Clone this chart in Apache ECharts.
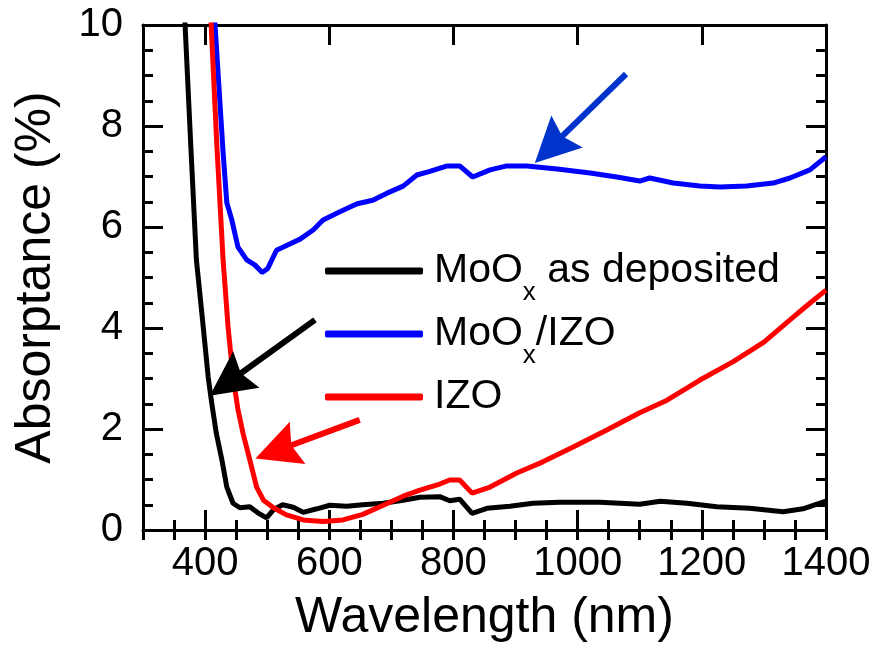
<!DOCTYPE html>
<html>
<head>
<meta charset="utf-8">
<title>Absorptance</title>
<script src="https://cdn.jsdelivr.net/npm/echarts@6.0.0/dist/echarts.min.js"></script>
<style>
  html, body { margin: 0; padding: 0; background: #fff; }
  #absorptance-chart { width: 875px; height: 650px; }
</style>
</head>
<body>
<div id="absorptance-chart"></div>
<script>
// MoOx as deposited
const blackWavelength = [367, 377, 386, 397, 405, 410, 418, 427, 435, 445, 456, 472, 485, 499, 510, 525, 542, 558, 580, 601, 628, 654, 687, 719, 746, 778, 794, 810, 830, 854, 891, 928, 971, 1036, 1100, 1133, 1176, 1224, 1277, 1331, 1363, 1395, 1400]
const blackAbsorptance = [10.2, 7.6, 5.35, 4.02, 3.03, 2.57, 1.92, 1.39, 0.85, 0.53, 0.44, 0.46, 0.34, 0.24, 0.4, 0.5, 0.45, 0.35, 0.42, 0.49, 0.47, 0.5, 0.53, 0.59, 0.65, 0.66, 0.58, 0.61, 0.33, 0.43, 0.47, 0.53, 0.55, 0.55, 0.51, 0.57, 0.53, 0.46, 0.43, 0.36, 0.42, 0.55, 0.57]

// MoOx/IZO
const blueWavelength = [415, 429, 435, 443, 453, 467, 480, 492, 501, 515, 532, 553, 574, 590, 617, 645, 670, 693, 719, 741, 762, 790, 810, 831, 859, 886, 918, 967, 1020, 1063, 1100, 1116, 1154, 1197, 1229, 1272, 1315, 1342, 1374, 1400]
const blueAbsorptance = [10.2, 7.47, 6.48, 6.14, 5.6, 5.35, 5.25, 5.1, 5.18, 5.54, 5.64, 5.76, 5.94, 6.14, 6.3, 6.46, 6.53, 6.67, 6.81, 7.03, 7.1, 7.21, 7.21, 6.99, 7.13, 7.21, 7.21, 7.15, 7.07, 6.99, 6.91, 6.97, 6.87, 6.81, 6.79, 6.81, 6.87, 6.97, 7.13, 7.39]

// IZO
const redWavelength = [409, 419, 429, 437, 445, 453, 461, 472, 483, 494, 510, 531, 558, 590, 622, 654, 687, 719, 746, 778, 794, 810, 830, 859, 902, 944, 992, 1047, 1100, 1144, 1197, 1250, 1300, 1342, 1370, 1400]
const redAbsorptance = [10.2, 7.6, 5.35, 4.02, 3.03, 2.38, 1.92, 1.39, 0.85, 0.59, 0.44, 0.3, 0.2, 0.17, 0.2, 0.31, 0.49, 0.67, 0.79, 0.91, 0.99, 0.99, 0.73, 0.85, 1.13, 1.35, 1.64, 1.98, 2.32, 2.57, 2.97, 3.33, 3.72, 4.16, 4.45, 4.75]

const xTickLabels = [400, 600, 800, 1000, 1200, 1400]
const yTickLabels = [0, 2, 4, 6, 8, 10]

// 箭头：[起点, 箭头中心]（数据坐标）
const blackArrow = [[577, 4.16], [437, 2.92]]
const blueArrow = [[1078, 9.03], [957, 7.58]]
const redArrow = [[649, 2.18], [515, 1.57]]

const FONT = "'Liberation Sans', Arial, sans-serif"
const ARROW_HEAD = 'path://M5,0 L10,20 L5,17 L0,20 Z'

const pairs = (xs, ys) => xs.map((x, i) => [x, ys[i]])

const legendText = {
  'MoOx as deposited': '{f|MoO}{s|x}{n| as deposited}',
  'MoOx/IZO': '{f|MoO}{s|x}{n|/IZO}',
  'IZO': '{f|IZO}{s| }'
}

function arrowMark(arrow, color) { // 标注箭头
  return {
    silent: true,
    animation: false,
    symbol: ['none', ARROW_HEAD],
    symbolSize: 45,
    label: { show: false },
    lineStyle: { type: 'solid', width: 6, color: color },
    itemStyle: { color: color },
    emphasis: { disabled: true },
    data: [[{ coord: arrow[0] }, { coord: arrow[1] }]]
  }
}

function lineSeries(name, xs, ys, color, arrow, arrowColor) {
  return {
    name: name,
    type: 'line',
    xAxisIndex: 0,
    yAxisIndex: 0,
    symbol: 'none',
    showSymbol: false,
    clip: true,
    animation: false,
    lineStyle: { color: color, width: 5 },
    itemStyle: { color: color },
    data: pairs(xs, ys),
    markLine: arrowMark(arrow, arrowColor)
  }
}

const axisLine = { show: true, onZero: false, lineStyle: { color: '#000', width: 3 } }
const noLine = { show: false }

function xAxisOf(position, major, labels) {
  const axis = {
    type: 'value',
    position: position,
    min: 300,
    max: 1400,
    axisLine: major ? axisLine : noLine,
    axisTick: { show: true, inside: true, length: major ? 20 : 10, lineStyle: { color: '#000', width: 3 } },
    axisLabel: { show: false },
    splitLine: { show: false }
  }
  if (!major) axis.interval = 50 // 300 是 50 的倍数
  if (labels) {
    axis.axisLabel = {
      show: true,
      fontSize: 40,
      fontFamily: FONT,
      color: '#000',
      margin: 14,
      formatter: v => (xTickLabels.includes(v) ? String(v) : '')
    }
    axis.name = 'Wavelength (nm)'
    axis.nameLocation = 'middle'
    axis.nameGap = 63
    axis.nameTextStyle = { fontSize: 50, fontFamily: FONT, color: '#000' }
  }
  return axis
}

function yAxisOf(position, labels) {
  const axis = {
    type: 'value',
    position: position,
    min: 0,
    max: 10,
    interval: 2,
    axisLine: axisLine,
    axisTick: { show: true, inside: true, length: 20, lineStyle: { color: '#000', width: 3 } },
    minorTick: { show: true, splitNumber: 4, length: 10, lineStyle: { color: '#000', width: 3 } },
    axisLabel: { show: false },
    splitLine: { show: false }
  }
  if (labels) {
    axis.axisLabel = {
      show: true,
      fontSize: 40,
      fontFamily: FONT,
      color: '#000',
      margin: 20,
      formatter: v => (yTickLabels.includes(v) ? String(v) : '')
    }
    axis.name = 'Absorptance (%)'
    axis.nameLocation = 'middle'
    axis.nameGap = 82
    axis.nameTextStyle = { fontSize: 50, fontFamily: FONT, color: '#000' }
  }
  return axis
}

const chart = echarts.init(document.getElementById('absorptance-chart'), null, { renderer: 'canvas' })

chart.setOption({
  animation: false,
  backgroundColor: '#fff',
  grid: { left: 143, right: 49, top: 25, bottom: 120, containLabel: false },
  xAxis: [
    xAxisOf('bottom', true, true),
    xAxisOf('bottom', false, false),
    xAxisOf('top', true, false),
    xAxisOf('top', false, false)
  ],
  yAxis: [
    yAxisOf('left', true),
    yAxisOf('right', false)
  ],
  legend: {
    orient: 'vertical',
    left: 325,
    top: 236,
    padding: 0,
    itemGap: -7,
    itemWidth: 98,
    itemHeight: 7,
    icon: 'roundRect',
    selectedMode: false,
    data: ['MoOx as deposited', 'MoOx/IZO', 'IZO'],
    formatter: name => legendText[name],
    textStyle: {
      color: '#000',
      fontFamily: FONT,
      rich: {
        f: { fontSize: 41, fontFamily: FONT, color: '#000', lineHeight: 44, padding: [0, 0, 0, 6], verticalAlign: 'middle' },
        n: { fontSize: 41, fontFamily: FONT, color: '#000', lineHeight: 44, verticalAlign: 'middle' },
        s: { fontSize: 26, fontFamily: FONT, color: '#000', lineHeight: 26, padding: [44, 0, 0, 0], verticalAlign: 'middle' }
      }
    }
  },
  series: [
    lineSeries('MoOx as deposited', blackWavelength, blackAbsorptance, '#000000', blackArrow, '#000000'),
    lineSeries('MoOx/IZO', blueWavelength, blueAbsorptance, '#0000ff', blueArrow, '#0033cc'),
    lineSeries('IZO', redWavelength, redAbsorptance, '#ff0000', redArrow, '#ff0000')
  ]
})
</script>
</body>
</html>
